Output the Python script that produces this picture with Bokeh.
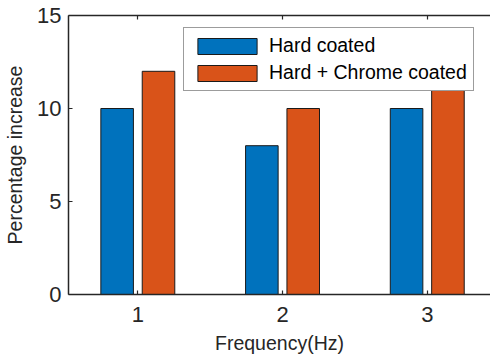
from bokeh.plotting import figure
from bokeh.models import ColumnDataSource, LinearAxis, FixedTicker, Range1d
from bokeh.transform import dodge
from bokeh.embed import file_html
from bokeh.resources import INLINE

# Percentage increase per excitation frequency
freq = [1, 2, 3]
hard_coated = [10, 8, 10]
hard_chrome_coated = [12, 10, 11]
y_ticks = [0, 5, 10, 15]

BLUE = "#0072BD"
ORANGE = "#D95319"
INK = "#262626"
FONT = "Liberation Sans"

source = ColumnDataSource(data=dict(freq=freq, hard=hard_coated, chrome=hard_chrome_coated))

p = figure(
    width=490, height=356,
    x_range=Range1d(0.521, 3.437), y_range=Range1d(0, 15),
    output_backend="svg", toolbar_location=None,
    min_border_left=68, min_border_right=0, min_border_top=15, min_border_bottom=62,
)
p.outline_line_color = None
p.xgrid.visible = False
p.ygrid.visible = False
p.background_fill_color = "white"
p.border_fill_color = "white"

bar_w = 0.225
p.vbar(x=dodge("freq", -0.143, range=p.x_range), top="hard", width=bar_w, source=source,
       fill_color=BLUE, line_color="#1a1a1a", line_width=1, legend_label="Hard coated")
p.vbar(x=dodge("freq", 0.143, range=p.x_range), top="chrome", width=bar_w, source=source,
       fill_color=ORANGE, line_color="#1a1a1a", line_width=1, legend_label="Hard + Chrome coated")

# bottom axis
xa = p.xaxis[0]
xa.ticker = FixedTicker(ticks=freq)
xa.axis_label = "Frequency(Hz)"
# left axis
ya = p.yaxis[0]
ya.ticker = FixedTicker(ticks=y_ticks)
ya.axis_label = "Percentage increase"

for ax in (xa, ya):
    ax.axis_line_color = INK
    ax.axis_line_width = 1.5
    ax.major_tick_line_color = INK
    ax.major_tick_line_width = 1.2
    ax.major_tick_in = 4
    ax.major_tick_out = 0
    ax.minor_tick_line_color = None
    ax.major_label_text_font = FONT
    ax.major_label_text_font_size = "22px"
    ax.major_label_text_color = INK
    ax.axis_label_text_font = FONT
    ax.axis_label_text_font_size = "19.5px"
    ax.axis_label_text_font_style = "normal"
    ax.axis_label_text_color = INK

xa.major_label_standoff = 12
xa.axis_label_standoff = 7
ya.major_label_standoff = 7
ya.axis_label_standoff = 8

# mirrored top axis (box on): line and inward ticks, labels left blank
top = LinearAxis(ticker=FixedTicker(ticks=freq))
top.axis_line_color = INK
top.axis_line_width = 1.5
top.major_tick_line_color = INK
top.major_tick_line_width = 1.2
top.major_tick_in = 4
top.major_tick_out = 0
top.minor_tick_line_color = None
top.major_label_overrides = {1: "", 2: "", 3: ""}
top.major_label_standoff = 0
p.add_layout(top, "above")

leg = p.legend[0]
leg.location = (115, 203)
leg.label_text_font = FONT
leg.label_text_font_size = "19.5px"
leg.label_text_color = "black"
leg.glyph_width = 74
leg.glyph_height = 20
leg.label_height = 20
leg.label_standoff = 5
leg.spacing = 4
leg.padding = 6
leg.margin = 0
leg.border_line_color = "#3a3a3a"
leg.border_line_width = 1
leg.background_fill_alpha = 1

open("out.html", "w").write(file_html(p, INLINE))
